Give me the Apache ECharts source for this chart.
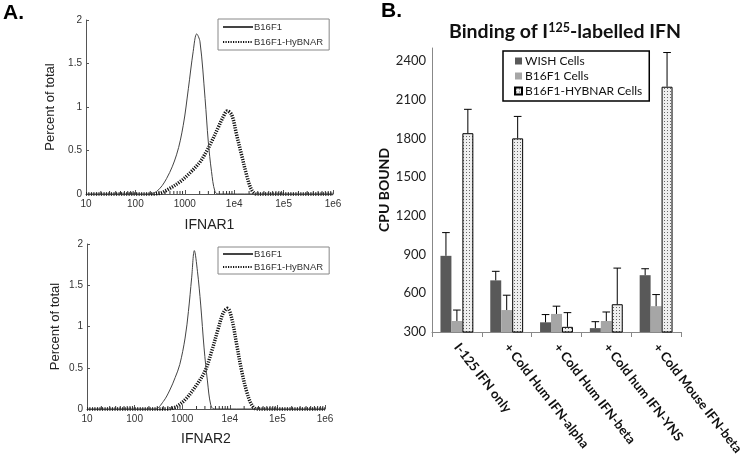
<!DOCTYPE html>
<html><head><meta charset="utf-8">
<script src="https://cdn.jsdelivr.net/npm/echarts@6/dist/echarts.min.js"></script>
<style>html,body{margin:0;padding:0;background:#fff}#c{width:746px;height:463px}</style>
</head><body><div id="c"></div>
<script>
// ---- Panel A data (fluorescence intensity, percent of total) ----
const xTickLabels = ['10', '100', '1000', '1e4', '1e5', '1e6'];
const minorTickMultipliers = [2, 3, 4, 5, 6, 7, 8, 9];
const decades = [10, 100, 1000, 10000, 100000];
const ifnar1B16X = [10, 100, 170, 270, 430, 680, 930, 1180, 1480, 1740, 2030, 2570, 2990, 3470, 4070, 4780, 10000, 1000000];
const ifnar1B16Y = [0, 0, 0, 0.03, 0.18, 0.45, 0.79, 1.21, 1.64, 1.84, 1.75, 1.10, 0.60, 0.26, 0.03, 0, 0, 0];
const ifnar1HybX = [10, 100, 200, 320, 500, 800, 1260, 2040, 2750, 3470, 4790, 6030, 7240, 8910, 11200, 14100, 17800, 22400, 28500, 1000000];
const ifnar1HybY = [0, 0, 0, 0.01, 0.065, 0.14, 0.24, 0.37, 0.49, 0.60, 0.77, 0.89, 0.955, 0.91, 0.68, 0.45, 0.22, 0.05, 0, 0];
const ifnar2B16X = [10, 100, 270, 400, 550, 710, 890, 1150, 1350, 1580, 1800, 2090, 2450, 2880, 3390, 3980, 4680, 10000, 1000000];
const ifnar2B16Y = [0, 0, 0, 0.09, 0.23, 0.38, 0.54, 0.86, 1.18, 1.59, 1.92, 1.67, 1.26, 0.74, 0.34, 0.05, 0, 0, 0];
const ifnar2HybX = [10, 100, 470, 760, 1230, 2000, 3020, 4170, 5750, 7240, 8910, 10960, 13960, 17780, 22650, 28840, 36700, 1000000];
const ifnar2HybY = [0, 0, 0, 0.03, 0.13, 0.29, 0.46, 0.70, 0.98, 1.16, 1.22, 1.10, 0.78, 0.46, 0.21, 0.05, 0, 0];

// ---- Panel B data ----
const categories = ['I-125 IFN only', '+ Cold Hum IFN-alpha', '+ Cold Hum IFN-beta', '+ Cold hum IFN-YNS', '+ Cold Mouse IFN-beta'];
const wishVals = [890, 700, 375, 330, 740];
const wishErr = [180, 70, 60, 50, 50];
const b16Vals = [385, 470, 440, 385, 500];
const b16Err = [85, 115, 60, 70, 90];
const hybVals = [1840, 1800, 340, 515, 2200];
const hybErr = [185, 170, 110, 280, 265];

const zip = (xs, ys) => xs.map((x, i) => [x, ys[i]]);
const minorTickVals = [];
decades.forEach(d => minorTickMultipliers.forEach(m => minorTickVals.push(m * d)));

const pc = document.createElement('canvas'); pc.width = 3; pc.height = 3;
const g = pc.getContext('2d');
g.fillStyle = '#efefef'; g.fillRect(0, 0, 3, 3);
g.fillStyle = '#666'; g.fillRect(1, 1, 1, 1);
const dotPattern = { image: pc, repeat: 'repeat' };

const sansA = 'Liberation Sans';
const sansB = 'Lato';

function logAxis(gi) {
  return {
    type: 'log', logBase: 10, min: 10, max: 1000000, gridIndex: gi,
    name: gi === 0 ? 'IFNAR1' : 'IFNAR2', nameLocation: 'middle', nameGap: gi === 0 ? 24 : 23,
    nameTextStyle: { fontFamily: sansA, fontSize: 14, color: '#222' },
    axisLine: { lineStyle: { color: '#555', width: 1 } },
    axisTick: { inside: true, length: 4, lineStyle: { color: '#555' } },
    splitLine: { show: false },
    axisLabel: { margin: 5, fontFamily: sansA, fontSize: 10, color: '#333',
      formatter: v => xTickLabels[Math.round(Math.log10(v)) - 1] }
  };
}
function pctAxis(gi) {
  return {
    type: 'value', min: 0, max: 2, interval: 0.5, gridIndex: gi,
    name: 'Percent of total', nameLocation: 'middle', nameGap: gi === 0 ? 29 : 25,
    nameTextStyle: { fontFamily: sansA, fontSize: 13, color: '#222' },
    axisLine: { show: true, lineStyle: { color: '#555', width: 1 } },
    axisTick: { show: true, inside: true, length: 3, lineStyle: { color: '#555' } },
    splitLine: { show: false },
    axisLabel: { margin: 4, fontFamily: sansA, fontSize: 10, color: '#333' }
  };
}
function lineSeries(name, gi, data, dotted) {
  return {
    type: 'line', name, xAxisIndex: gi, yAxisIndex: gi, data, symbol: 'none', smooth: 0.35, clip: false,
    lineStyle: dotted ? { color: '#111', width: 3.5, type: [1.2, 1.3] } : { color: '#444', width: 1 },
    itemStyle: { color: dotted ? '#111' : '#444' }, z: dotted ? 3 : 4
  };
}
function minorTicks(gi) {
  return {
    type: 'custom', name: 'minor' + gi, xAxisIndex: gi, yAxisIndex: gi, silent: true, z: 5, clip: false,
    data: minorTickVals.map(v => [v, 0]),
    encode: { x: 0, y: 1 },
    renderItem(params, api) {
      const p = api.coord([api.value(0), 0]);
      return { type: 'line', shape: { x1: p[0], y1: p[1], x2: p[0], y2: p[1] - 3 }, style: { stroke: '#333', lineWidth: 1 } };
    }
  };
}
function errSeries(vals, errs, idx) {
  return {
    type: 'custom', name: 'err' + idx, xAxisIndex: 2, yAxisIndex: 2, silent: true, z: 6,
    data: vals.map((v, i) => [i, v, v + errs[i]]),
    encode: { x: 0, y: [1, 2] },
    renderItem(params, api) {
      const i = api.value(0);
      const p0 = api.coord([i, api.value(1)]);
      const p1 = api.coord([i, api.value(2)]);
      const band = api.size([1, 0])[0];
      const bw = band * (1 - 0.34) / 3;
      const x = p0[0] + (idx - 1) * bw;
      const cap = bw * 0.35;
      return { type: 'group', children: [
        { type: 'line', shape: { x1: x, y1: p0[1], x2: x, y2: p1[1] }, style: { stroke: '#000', lineWidth: 1 } },
        { type: 'line', shape: { x1: x - cap, y1: p1[1], x2: x + cap, y2: p1[1] }, style: { stroke: '#000', lineWidth: 1 } }
      ] };
    }
  };
}
function barSeries(name, vals, style) {
  return { type: 'bar', name, xAxisIndex: 2, yAxisIndex: 2, data: vals, barGap: '0%', barCategoryGap: '34%', itemStyle: style };
}
const hiddenSymbol = { color: 'rgba(0,0,0,0)', borderColor: 'rgba(0,0,0,0)', borderWidth: 0, opacity: 0 };

const chart = echarts.init(document.getElementById('c'), null, { renderer: 'canvas' });
chart.setOption({
  animation: false,
  backgroundColor: '#fff',
  title: {
    left: 444, top: 16,
    text: '{a|Binding of I}{s|125}{a|-labelled IFN}',
    textStyle: { rich: {
      a: { fontFamily: sansB, fontWeight: 'bold', fontSize: 19.5, color: '#111' },
      s: { fontFamily: sansB, fontWeight: 'bold', fontSize: 12.5, color: '#111', verticalAlign: 'top', padding: [0, 0, 9, 0] }
    } }
  },
  graphic: [
    { type: 'text', left: 3, top: 3, style: { text: 'A.', font: 'bold 21px "Liberation Sans"', fill: '#000' } },
    { type: 'text', left: 381, top: 1, style: { text: 'B.', font: 'bold 21px "Liberation Sans"', fill: '#000' } }
  ],
  legend: [
    { left: 218, top: 19, orient: 'vertical', data: ['B16F1', 'B16F1-HyBNAR'], borderColor: '#888', borderWidth: 1,
      padding: [3, 6, 3, 4], itemWidth: 30, itemHeight: 10, itemGap: 5, itemStyle: hiddenSymbol,
      textStyle: { fontFamily: sansA, fontSize: 9.5, color: '#333', padding: [0, 0, 0, -4] }, selectedMode: false, backgroundColor: '#fff' },
    { left: 218, top: 247, orient: 'vertical', data: ['B16F1', 'B16F1-HyBNAR'], borderColor: '#888', borderWidth: 1,
      padding: [2, 6, 2, 4], itemWidth: 30, itemHeight: 9, itemGap: 3, itemStyle: hiddenSymbol,
      textStyle: { fontFamily: sansA, fontSize: 9.5, color: '#333', padding: [0, 0, 0, -4] }, selectedMode: false, backgroundColor: '#fff' },
    { left: 503, top: 51, orient: 'vertical', data: ['WISH Cells', 'B16F1 Cells', 'B16F1-HYBNAR Cells'], borderColor: '#000', borderWidth: 1.5,
      padding: [4, 7, 4, 11], itemWidth: 7, itemHeight: 7, itemGap: 3, icon: 'rect',
      textStyle: { fontFamily: sansB, fontSize: 12, color: '#111', padding: [0, 0, 0, -2] }, selectedMode: false, backgroundColor: '#fff' }
  ],
  grid: [
    { left: 86, top: 20, width: 247, height: 174 },
    { left: 87, top: 244, width: 238, height: 165 },
    { left: 432, top: 48, width: 250, height: 284 }
  ],
  xAxis: [
    logAxis(0), logAxis(1),
    { type: 'category', gridIndex: 2, data: categories, boundaryGap: true,
      axisLine: { lineStyle: { color: '#888', width: 1 } },
      axisTick: { show: true, length: 5, lineStyle: { color: '#888' } },
      axisLabel: { rotate: -52, margin: 13, fontFamily: sansB, fontWeight: 'bold', fontSize: 13, color: '#111', interval: 0 } }
  ],
  yAxis: [
    pctAxis(0), pctAxis(1),
    { type: 'value', gridIndex: 2, min: 300, max: 2500, interval: 300,
      name: 'CPU BOUND', nameLocation: 'middle', nameGap: 39,
      nameTextStyle: { fontFamily: sansB, fontWeight: 'bold', fontSize: 14, color: '#111' },
      axisLine: { show: true, lineStyle: { color: '#888', width: 1 } },
      axisTick: { show: false }, splitLine: { show: false },
      axisLabel: { margin: 6, fontFamily: sansB, fontSize: 13, color: '#222', showMaxLabel: false, formatter: v => String(v) } }
  ],
  series: [
    lineSeries('B16F1-HyBNAR', 0, zip(ifnar1HybX, ifnar1HybY), true),
    lineSeries('B16F1', 0, zip(ifnar1B16X, ifnar1B16Y), false),
    lineSeries('B16F1-HyBNAR', 1, zip(ifnar2HybX, ifnar2HybY), true),
    lineSeries('B16F1', 1, zip(ifnar2B16X, ifnar2B16Y), false),
    minorTicks(0), minorTicks(1),
    barSeries('WISH Cells', wishVals, { color: '#595959' }),
    barSeries('B16F1 Cells', b16Vals, { color: '#a6a6a6' }),
    barSeries('B16F1-HYBNAR Cells', hybVals, { color: dotPattern, borderColor: '#000', borderWidth: 1 }),
    errSeries(wishVals, wishErr, 0),
    errSeries(b16Vals, b16Err, 1),
    errSeries(hybVals, hybErr, 2)
  ]
});
</script></body></html>
